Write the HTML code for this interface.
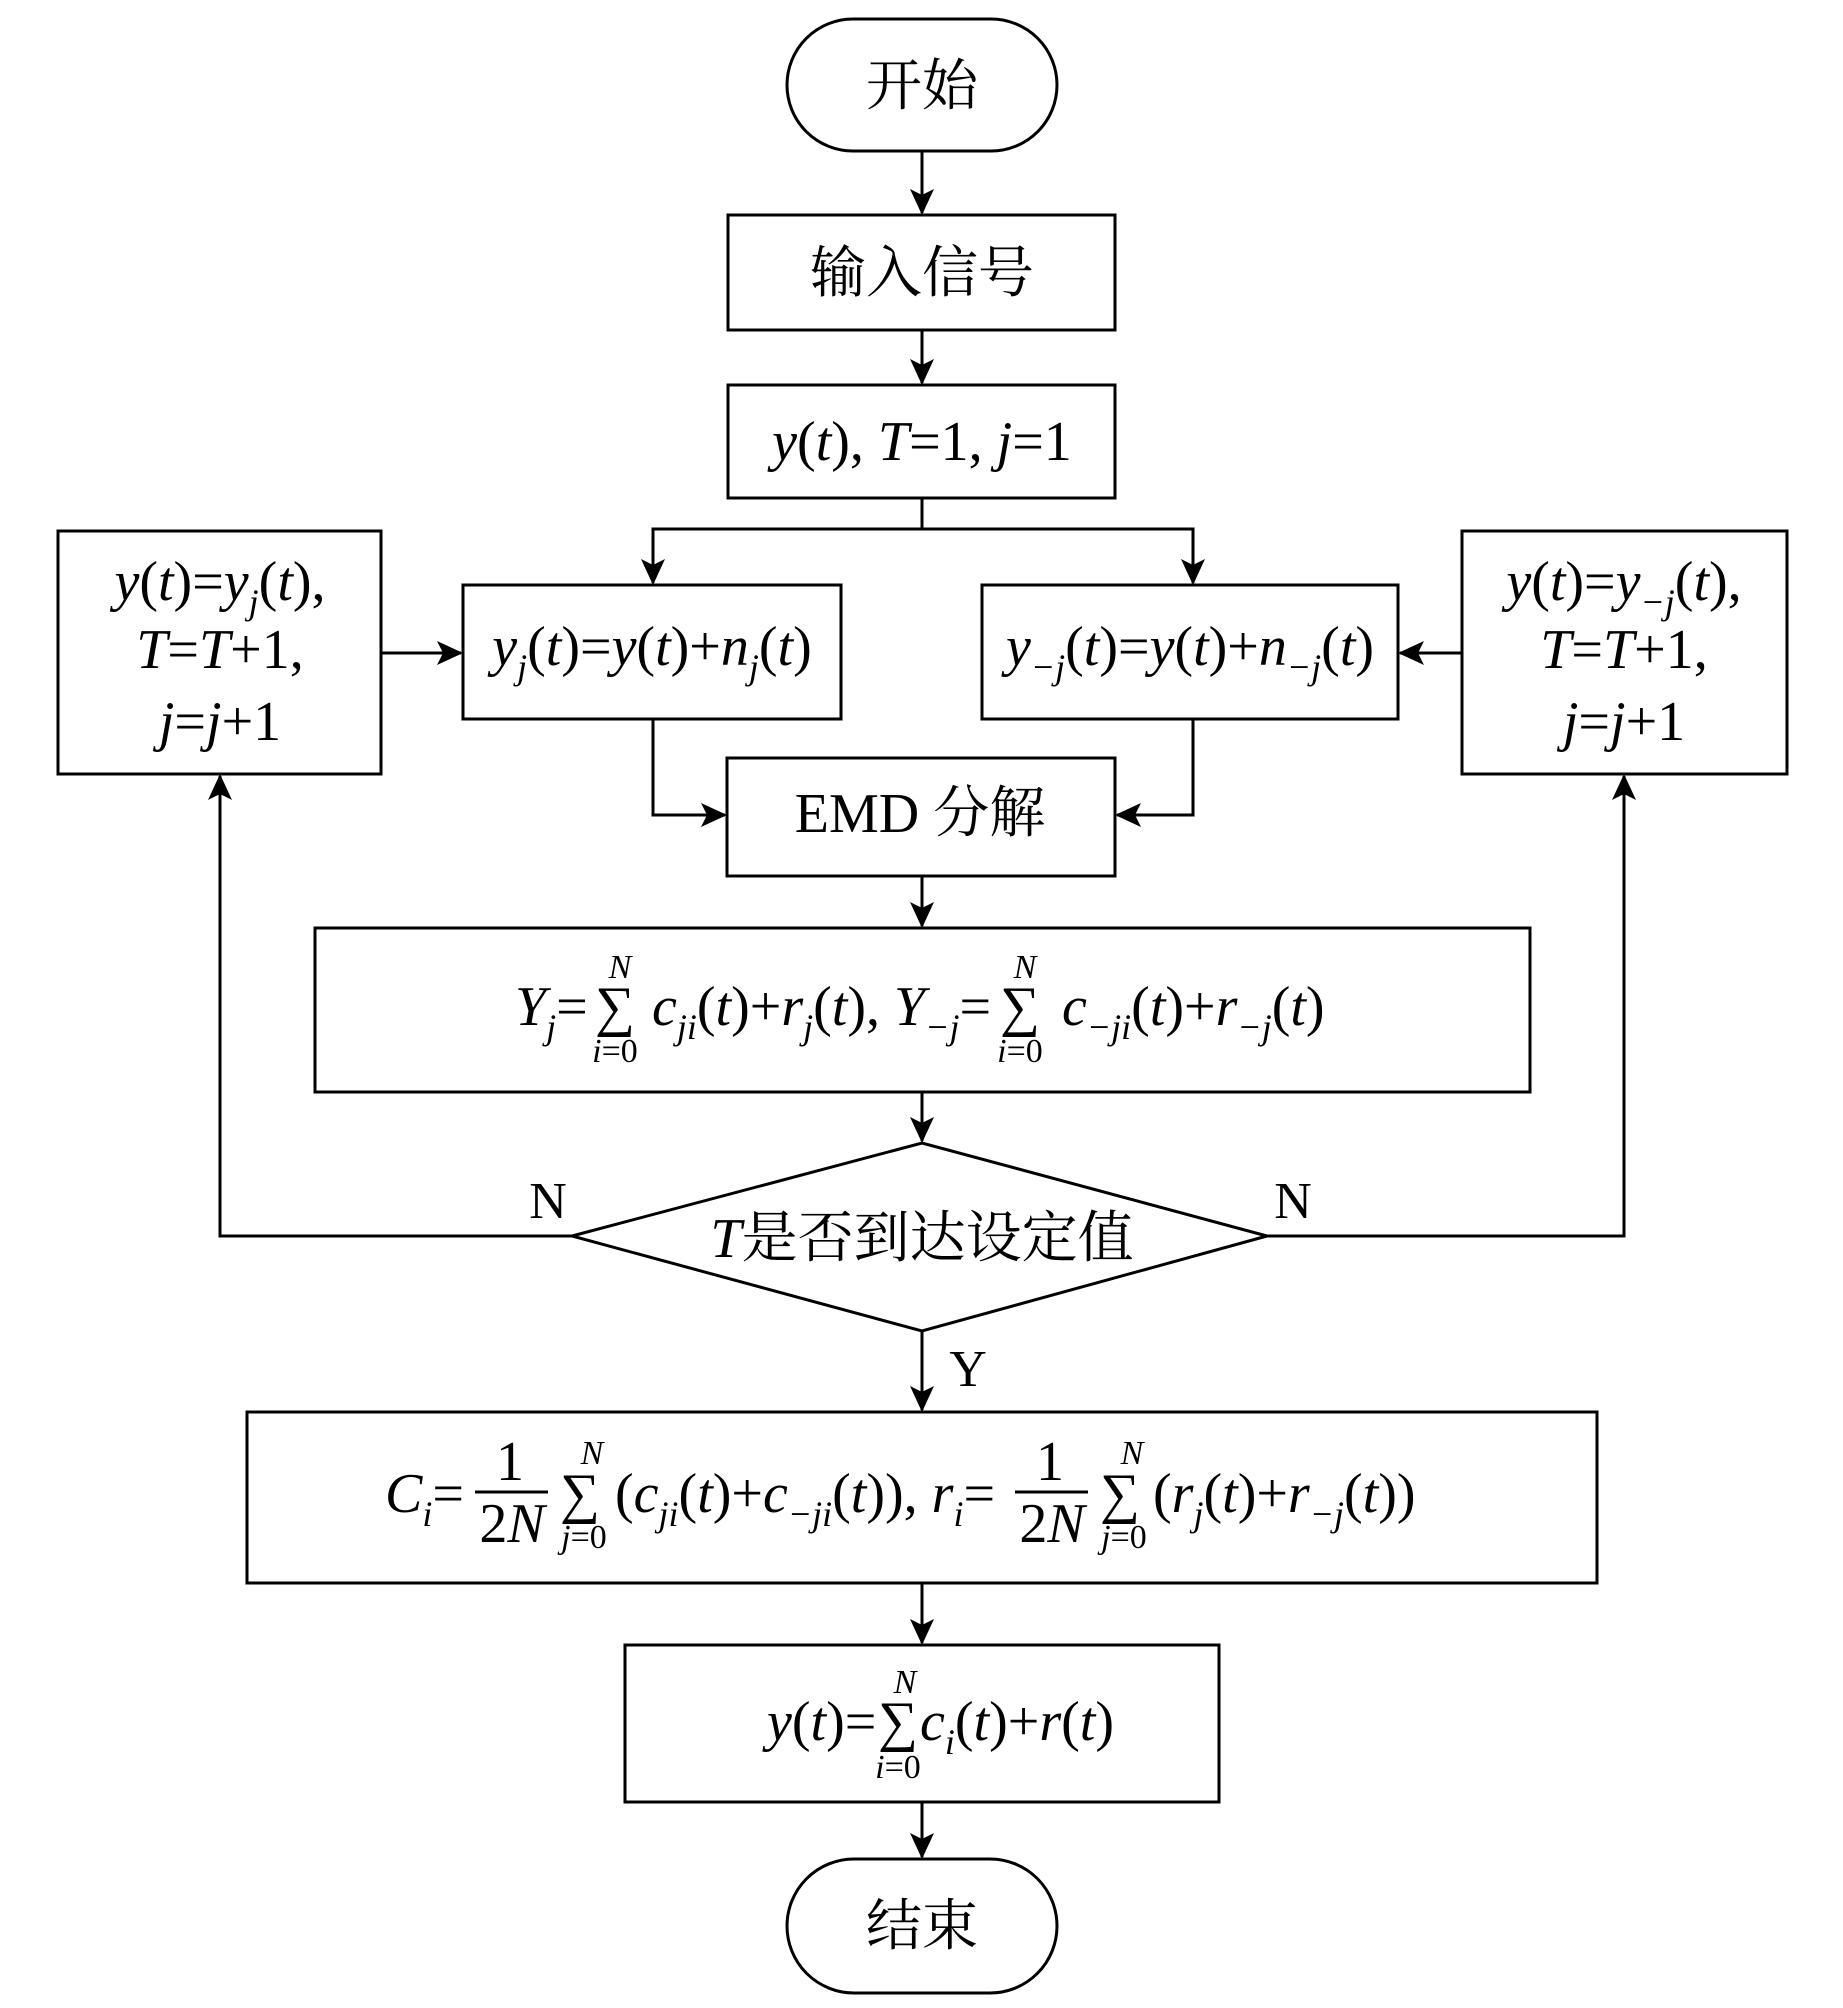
<!DOCTYPE html>
<html><head><meta charset="utf-8"><style>
html,body{margin:0;padding:0;background:#fff}
svg{display:block}
text{font-family:"Liberation Serif","Noto Serif CJK SC","Noto Sans CJK SC",serif;fill:#000}
.i{font-style:italic}
</style></head><body>
<svg width="1843" height="2008" viewBox="0 0 1843 2008" xmlns="http://www.w3.org/2000/svg">
<defs>
<marker id="b" markerWidth="26" markerHeight="30" refX="24" refY="12" orient="auto" markerUnits="userSpaceOnUse"><path d="M0,0 L26,12 L0,24 L6,12 Z" fill="#000"/></marker></defs>
<g fill="none" stroke="#000" stroke-width="3">
<rect x="787" y="19" width="270" height="132" rx="66"/>
<rect x="728" y="215" width="387" height="115"/>
<rect x="728" y="385" width="387" height="113"/>
<rect x="463" y="585" width="378" height="134"/>
<rect x="982" y="585" width="416" height="134"/>
<rect x="58" y="531" width="323" height="243"/>
<rect x="1462" y="531" width="325" height="243"/>
<rect x="727" y="758" width="388" height="118"/>
<rect x="315" y="928" width="1215" height="164"/>
<polygon points="572,1236 922,1143 1267,1236 922,1331"/>
<rect x="247" y="1412" width="1350" height="171"/>
<rect x="625" y="1645" width="594" height="157"/>
<rect x="787" y="1859" width="270" height="134" rx="67"/>
</g>
<g fill="none" stroke="#000" stroke-width="3" marker-end="url(#b)">
<line x1="922" y1="151" x2="922" y2="213"/>
<line x1="922" y1="330" x2="922" y2="383"/>
<polyline points="922,498 922,529 653,529 653,583"/>
<polyline points="922,529 1193,529 1193,583"/>
<line x1="381" y1="653" x2="461" y2="653"/>
<line x1="1462" y1="653" x2="1400" y2="653"/>
<polyline points="653,719 653,815 725,815"/>
<polyline points="1193,719 1193,815 1117,815"/>
<line x1="922" y1="876" x2="922" y2="926"/>
<line x1="922" y1="1092" x2="922" y2="1141"/>
<polyline points="572,1236 220,1236 220,776"/>
<polyline points="1267,1236 1624,1236 1624,776"/>
<line x1="922" y1="1331" x2="922" y2="1410"/>
<line x1="922" y1="1583" x2="922" y2="1643"/>
<line x1="922" y1="1802" x2="922" y2="1857"/>
</g>
<g font-size="56" text-anchor="middle">
<text x="922" y="105">开始</text>
<text x="922" y="292">输入信号</text>
<text x="922" y="460"><tspan class="i">y</tspan>(<tspan class="i">t</tspan>), <tspan class="i">T</tspan>=1, <tspan class="i">j</tspan>=1</text>
<text x="652" y="665"><tspan class="i">y<tspan font-size="36" dy="14">j</tspan></tspan><tspan dy="-14">(</tspan><tspan class="i">t</tspan>)=<tspan class="i">y</tspan>(<tspan class="i">t</tspan>)+<tspan class="i">n<tspan font-size="36" dy="14">j</tspan></tspan><tspan dy="-14">(</tspan><tspan class="i">t</tspan>)</text>
<text x="1190" y="665"><tspan class="i">y<tspan font-size="36" dy="14">−j</tspan></tspan><tspan dy="-14">(</tspan><tspan class="i">t</tspan>)=<tspan class="i">y</tspan>(<tspan class="i">t</tspan>)+<tspan class="i">n<tspan font-size="36" dy="14">−j</tspan></tspan><tspan dy="-14">(</tspan><tspan class="i">t</tspan>)</text>
<text x="220" y="600"><tspan class="i">y</tspan>(<tspan class="i">t</tspan>)=<tspan class="i">y<tspan font-size="36" dy="14">j</tspan></tspan><tspan dy="-14">(</tspan><tspan class="i">t</tspan>),</text>
<text x="220" y="668"><tspan class="i">T</tspan>=<tspan class="i">T</tspan>+1,</text>
<text x="220" y="740"><tspan class="i">j</tspan>=<tspan class="i">j</tspan>+1</text>
<text x="1624" y="600"><tspan class="i">y</tspan>(<tspan class="i">t</tspan>)=<tspan class="i">y<tspan font-size="36" dy="14">−j</tspan></tspan><tspan dy="-14">(</tspan><tspan class="i">t</tspan>),</text>
<text x="1624" y="668"><tspan class="i">T</tspan>=<tspan class="i">T</tspan>+1,</text>
<text x="1624" y="740"><tspan class="i">j</tspan>=<tspan class="i">j</tspan>+1</text>
<text x="920" y="832">EMD 分解</text>
<text x="922" y="1257"><tspan class="i">T</tspan>是否到达设定值</text>
<text x="548" y="1218" font-size="52">N</text>
<text x="1293" y="1218" font-size="52">N</text>
<text x="968" y="1386" font-size="52">Y</text>
</g>
<g font-size="56">
<text x="515" y="1025"><tspan class="i">Y<tspan font-size="36" dy="14">j</tspan></tspan><tspan dy="-14">=</tspan></text>
<text x="615" y="1025" text-anchor="middle">∑</text>
<text x="620" y="978" font-size="34" class="i" text-anchor="middle">N</text>
<text x="615" y="1062" font-size="34" text-anchor="middle"><tspan class="i">i</tspan>=0</text>
<text x="652" y="1025"><tspan class="i">c<tspan font-size="36" dy="14">ji</tspan></tspan><tspan dy="-14">(</tspan><tspan class="i">t</tspan>)+<tspan class="i">r<tspan font-size="36" dy="14">j</tspan></tspan><tspan dy="-14">(</tspan><tspan class="i">t</tspan>), <tspan class="i">Y<tspan font-size="36" dy="14">−j</tspan></tspan><tspan dy="-14">=</tspan></text>
<text x="1020" y="1025" text-anchor="middle">∑</text>
<text x="1025" y="978" font-size="34" class="i" text-anchor="middle">N</text>
<text x="1020" y="1062" font-size="34" text-anchor="middle"><tspan class="i">i</tspan>=0</text>
<text x="1062" y="1025"><tspan class="i">c<tspan font-size="36" dy="14">−ji</tspan></tspan><tspan dy="-14">(</tspan><tspan class="i">t</tspan>)+<tspan class="i">r<tspan font-size="36" dy="14">−j</tspan></tspan><tspan dy="-14">(</tspan><tspan class="i">t</tspan>)</text>
</g>
<g font-size="56">
<text x="385" y="1512"><tspan class="i">C<tspan font-size="36" dy="14">i</tspan></tspan><tspan dy="-14">=</tspan></text>
<text x="510" y="1480" text-anchor="middle">1</text>
<line x1="475" y1="1492" x2="548" y2="1492" stroke="#000" stroke-width="3"/>
<text x="512" y="1542" text-anchor="middle">2<tspan class="i">N</tspan></text>
<text x="580" y="1512" text-anchor="middle">∑</text>
<text x="592" y="1464" font-size="34" class="i" text-anchor="middle">N</text>
<text x="584" y="1548" font-size="34" text-anchor="middle"><tspan class="i">j</tspan>=0</text>
<text x="615" y="1512">(<tspan class="i">c<tspan font-size="36" dy="14">ji</tspan></tspan><tspan dy="-14">(</tspan><tspan class="i">t</tspan>)+<tspan class="i">c<tspan font-size="36" dy="14">−ji</tspan></tspan><tspan dy="-14">(</tspan><tspan class="i">t</tspan>)), <tspan class="i">r<tspan font-size="36" dy="14">i</tspan></tspan><tspan dy="-14">=</tspan></text>
<text x="1050" y="1480" text-anchor="middle">1</text>
<line x1="1015" y1="1492" x2="1088" y2="1492" stroke="#000" stroke-width="3"/>
<text x="1052" y="1542" text-anchor="middle">2<tspan class="i">N</tspan></text>
<text x="1120" y="1512" text-anchor="middle">∑</text>
<text x="1132" y="1464" font-size="34" class="i" text-anchor="middle">N</text>
<text x="1124" y="1548" font-size="34" text-anchor="middle"><tspan class="i">j</tspan>=0</text>
<text x="1153" y="1512">(<tspan class="i">r<tspan font-size="36" dy="14">j</tspan></tspan><tspan dy="-14">(</tspan><tspan class="i">t</tspan>)+<tspan class="i">r<tspan font-size="36" dy="14">−j</tspan></tspan><tspan dy="-14">(</tspan><tspan class="i">t</tspan>))</text>
</g>
<g font-size="56">
<text x="767" y="1740"><tspan class="i">y</tspan>(<tspan class="i">t</tspan>)=</text>
<text x="898" y="1740" text-anchor="middle">∑</text>
<text x="905" y="1693" font-size="34" class="i" text-anchor="middle">N</text>
<text x="898" y="1778" font-size="34" text-anchor="middle"><tspan class="i">i</tspan>=0</text>
<text x="920" y="1740"><tspan class="i">c<tspan font-size="36" dy="14">i</tspan></tspan><tspan dy="-14">(</tspan><tspan class="i">t</tspan>)+<tspan class="i">r</tspan>(<tspan class="i">t</tspan>)</text>
</g>
<text x="922" y="1945" font-size="56" text-anchor="middle">结束</text>
</svg>
</body></html>
